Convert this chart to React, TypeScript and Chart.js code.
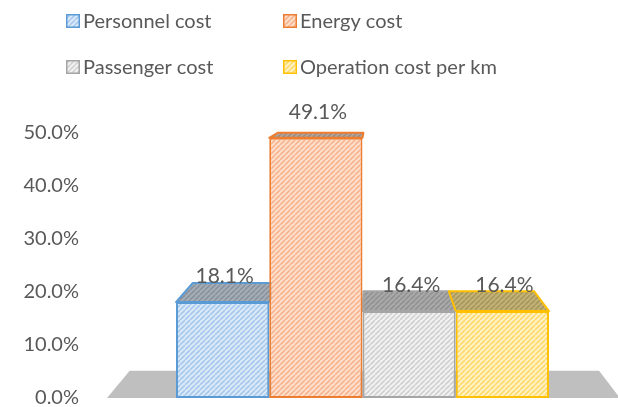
import React, { useEffect, useRef } from "react";
import { Chart, registerables } from "chart.js";

Chart.register(...registerables);

const categories = [""];
const seriesNames = ["Personnel cost", "Energy cost", "Passenger cost", "Operation cost per km"];
const seriesValues = [18.1, 49.1, 16.4, 16.4];
const yTickValues = [0, 10, 20, 30, 40, 50];

const lineColors = ["#5B9BD5", "#ED7D31", "#A5A5A5", "#FFC000"];
const frontBg = ["#DCEAF8", "#FDE0CE", "#F2F2F2", "#FFF2C6"];
const frontFg = ["#A6C8EC", "#F7B48E", "#D0D0D0", "#FFDA6A"];
const topBg = ["#A6AEB7", "#B3A59B", "#ABABAB", "#C4B379"];
const topFg = ["#89929C", "#988A80", "#919191", "#A7975B"];

const TEXT = "#595959";
const FONT_FAMILY = "Lato, 'Open Sans', sans-serif";

function hatch(bg: string, fg: string, size = 5, lw = 1.6): CanvasPattern | string {
  const c = document.createElement("canvas");
  c.width = size;
  c.height = size;
  const x = c.getContext("2d");
  if (!x) return bg;
  x.fillStyle = bg;
  x.fillRect(0, 0, size, size);
  x.strokeStyle = fg;
  x.lineWidth = lw;
  x.beginPath();
  for (let i = -1; i <= 1; i++) {
    x.moveTo(i * size, size);
    x.lineTo(i * size + size, 0);
  }
  x.stroke();
  const p = x.createPattern(c, "repeat");
  return p || bg;
}

const S = 0.915;

function persp(chart: any) {
  const a = chart.chartArea;
  const vx = a.left + (a.right - a.left) * 0.522;
  const vy = a.top - 55;
  return (px: number, py: number): [number, number] => [vx + (px - vx) * S, vy + (py - vy) * S];
}

const threeD = {
  id: "threeD",
  beforeDatasetsDraw(chart: any) {
    const ctx = chart.ctx;
    const a = chart.chartArea;
    const P = persp(chart);
    ctx.save();
    const fl = a.left;
    const fr = a.right + 2;
    const fb = a.bottom;
    const b1 = P(fl, fb);
    const b2 = P(fr, fb);
    ctx.fillStyle = "#BFBFBF";
    ctx.beginPath();
    ctx.moveTo(fl, fb);
    ctx.lineTo(b1[0], b1[1]);
    ctx.lineTo(b2[0], b2[1]);
    ctx.lineTo(fr, fb);
    ctx.closePath();
    ctx.fill();
    chart.data.datasets.forEach((ds: any, i: number) => {
      const meta = chart.getDatasetMeta(i);
      const el = meta.data[0];
      if (!el) return;
      const l = el.x - el.width / 2;
      const r = el.x + el.width / 2;
      const t = el.y;
      const bl = P(l, t);
      const br = P(r, t);
      ctx.fillStyle = ds._topPattern;
      ctx.strokeStyle = ds.borderColor;
      ctx.lineWidth = 2;
      ctx.lineJoin = "round";
      ctx.beginPath();
      ctx.moveTo(l, t);
      ctx.lineTo(bl[0], bl[1]);
      ctx.lineTo(br[0], br[1]);
      ctx.lineTo(r, t);
      ctx.closePath();
      ctx.fill();
      ctx.stroke();
    });
    ctx.restore();
  },
  afterDatasetsDraw(chart: any) {
    const ctx = chart.ctx;
    ctx.save();
    ctx.fillStyle = TEXT;
    ctx.font = `21px ${FONT_FAMILY}`;
    ctx.textAlign = "center";
    ctx.textBaseline = "alphabetic";
    chart.data.datasets.forEach((ds: any, i: number) => {
      const el = chart.getDatasetMeta(i).data[0];
      if (!el) return;
      ctx.fillText(Number(ds.data[0]).toFixed(1) + "%", el.x + 2, el.y - 19);
    });
    ctx.restore();
  },
  afterDraw(chart: any) {
    const ctx = chart.ctx;
    const colX = [66, 283];
    const rowY = [14, 60];
    ctx.save();
    ctx.font = `20px ${FONT_FAMILY}`;
    ctx.textAlign = "left";
    ctx.textBaseline = "middle";
    chart.data.datasets.forEach((ds: any, i: number) => {
      const x = colX[i % 2];
      const y = rowY[Math.floor(i / 2)];
      ctx.fillStyle = ds.backgroundColor;
      ctx.fillRect(x, y, 14, 14);
      ctx.strokeStyle = ds.borderColor;
      ctx.lineWidth = 1.5;
      ctx.strokeRect(x + 0.75, y + 0.75, 12.5, 12.5);
      ctx.fillStyle = TEXT;
      ctx.fillText(ds.label, x + 17, y + 8);
    });
    ctx.restore();
  },
};

export default function App() {
  const ref = useRef<HTMLCanvasElement | null>(null);
  useEffect(() => {
    if (!ref.current) return;
    const datasets = seriesNames.map((name, i) => ({
      label: name,
      data: [seriesValues[i]],
      backgroundColor: hatch(frontBg[i], frontFg[i]),
      borderColor: lineColors[i],
      borderWidth: 2,
      borderSkipped: false,
      _topPattern: hatch(topBg[i], topFg[i]),
    }));
    const chart = new Chart(ref.current, {
      type: "bar",
      data: { labels: categories, datasets: datasets as any },
      plugins: [threeD],
      options: {
        animation: false,
        responsive: true,
        maintainAspectRatio: false,
        events: [],
        layout: { padding: { top: 133, bottom: 9, left: 0, right: 0 } },
        datasets: { bar: { categoryPercentage: 0.73, barPercentage: 1 } },
        plugins: { legend: { display: false }, tooltip: { enabled: false } },
        scales: {
          x: { display: false },
          y: {
            min: 0,
            max: 50,
            afterBuildTicks: (s: any) => {
              s.ticks = yTickValues.map((v) => ({ value: v }));
            },
            afterFit: (s: any) => {
              s.width = 107;
              s.paddingTop = 0;
              s.paddingBottom = 0;
            },
            grid: { display: false, drawTicks: false },
            border: { display: false },
            ticks: {
              padding: 28,
              color: TEXT,
              font: { family: FONT_FAMILY, size: 20 },
              callback: (v: any) => Number(v).toFixed(1) + "%",
            },
          },
        },
      } as any,
    });
    return () => chart.destroy();
  }, []);
  return (
    <div style={{ position: "absolute", left: 0, top: 0, width: 618, height: 407, background: "#fff" }}>
      <canvas ref={ref} />
    </div>
  );
}
